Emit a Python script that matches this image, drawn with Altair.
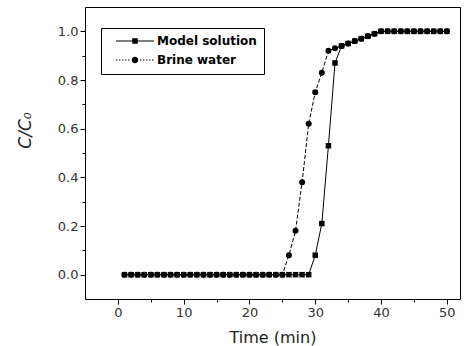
import altair as alt
import pandas as pd

# ---- data ----
time = list(range(1, 51))
model_solution = [0.0] * 29 + [0.08, 0.21, 0.53, 0.87, 0.94, 0.95, 0.96, 0.97, 0.98, 0.99] + [1.0] * 11
brine_water = [0.0] * 25 + [0.08, 0.18, 0.38, 0.62, 0.75, 0.83, 0.92, 0.93, 0.94, 0.95, 0.96, 0.97, 0.98, 0.99] + [1.0] * 11
series_names = ["Model solution", "Brine water"]
x_ticks = [0, 5, 10, 15, 20, 25, 30, 35, 40, 45, 50]
y_ticks = [0.0, 0.1, 0.2, 0.3, 0.4, 0.5, 0.6, 0.7, 0.8, 0.9, 1.0]

df = pd.DataFrame({
    "time": time + time,
    "value": model_solution + brine_water,
    "series": [series_names[0]] * len(time) + [series_names[1]] * len(time),
})

FONT = "DejaVu Sans"

x_enc = alt.X(
    "time:Q",
    scale=alt.Scale(domain=[-5, 52], nice=False, zero=False),
    axis=alt.Axis(
        values=x_ticks,
        labelExpr="datum.value % 10 === 0 ? datum.label : ''",
        tickSize={"condition": {"test": "datum.value % 10 === 0", "value": 5}, "value": 3},
        domain=False, grid=False, tickColor="black", tickWidth=1,
        labelFont=FONT, labelFontSize=13, labelColor="#333", labelPadding=2,
        title="Time (min)", titleFont=FONT, titleFontSize=16, titleFontWeight="normal",
        titleColor="#222", titlePadding=10,
    ),
)
y_enc = alt.Y(
    "value:Q",
    scale=alt.Scale(domain=[-0.1, 1.1], nice=False, zero=False),
    axis=alt.Axis(
        values=y_ticks, format=".1f",
        labelExpr="round(datum.value * 10) % 2 === 0 ? datum.label : ''",
        tickSize={"condition": {"test": "round(datum.value * 10) % 2 === 0", "value": 5}, "value": 3},
        domain=False, grid=False, tickColor="black", tickWidth=1,
        labelFont=FONT, labelFontSize=13, labelColor="#333", labelPadding=2,
        title="C/C₀", titleFont=FONT, titleFontSize=17, titleFontWeight="normal",
        titleFontStyle="italic", titleColor="#222",
        titleX=-60, titleY=123, titleAngle=270, titleAlign="center", titleBaseline="middle",
    ),
)

base = alt.Chart(df)

brine_line = base.transform_filter(alt.datum.series == series_names[1]).mark_line(
    color="black", strokeWidth=1, strokeDash=[4, 2]
).encode(x=x_enc, y=y_enc)
brine_pts = base.transform_filter(alt.datum.series == series_names[1]).mark_point(
    shape="circle", filled=True, size=36, color="black", opacity=1
).encode(x=x_enc, y=y_enc)
model_line = base.transform_filter(alt.datum.series == series_names[0]).mark_line(
    color="black", strokeWidth=1
).encode(x=x_enc, y=y_enc)
model_pts = base.transform_filter(alt.datum.series == series_names[0]).mark_point(
    shape="square", filled=True, size=30, color="black", opacity=1
).encode(x=x_enc, y=y_enc)

# legend symbols: line + marker drawn as filled custom paths (unit = 5 px)
L = 3.8
H = 0.1
model_path = f"M{-L},{-H}H{L}V{H}H{-L}Z" + "M-0.55,-0.55H0.55V0.55H-0.55Z"
segs = []
xpos = -L
while xpos < L:
    end = min(xpos + 0.3, L)
    if end < -0.7 or xpos > 0.7:
        segs.append(f"M{xpos:.2f},{-H}H{end:.2f}V{H}H{xpos:.2f}Z")
    xpos += 0.6
brine_path = "".join(segs) + "M0.65,0A0.65,0.65 0 1,1 -0.65,0A0.65,0.65 0 1,1 0.65,0Z"

legend_layer = base.transform_filter("false").mark_point(
    color="black", filled=True, opacity=1
).encode(
    x=x_enc, y=y_enc,
    shape=alt.Shape(
        "series:N",
        scale=alt.Scale(domain=series_names, range=[model_path, brine_path]),
        legend=alt.Legend(
            title=None, orient="none", legendX=16, legendY=21,
            strokeColor="black", fillColor="white", padding=7, cornerRadius=0,
            symbolSize=100, symbolOffset=21, labelOffset=16, rowPadding=6,
            symbolFillColor="black", symbolOpacity=1,
            labelFont=FONT, labelFontWeight="bold", labelFontSize=12, labelColor="black",
        ),
    ),
)

chart = alt.layer(brine_line, brine_pts, model_line, model_pts, legend_layer).properties(
    width=375, height=292,
    padding={"left": 85, "top": 7, "right": 10, "bottom": 47},
    autosize=alt.AutoSizeParams(type="none"),
    background="white",
).configure_view(stroke="black", strokeWidth=1)

chart.save("out.html", embed_options={"renderer": "svg", "actions": False})
